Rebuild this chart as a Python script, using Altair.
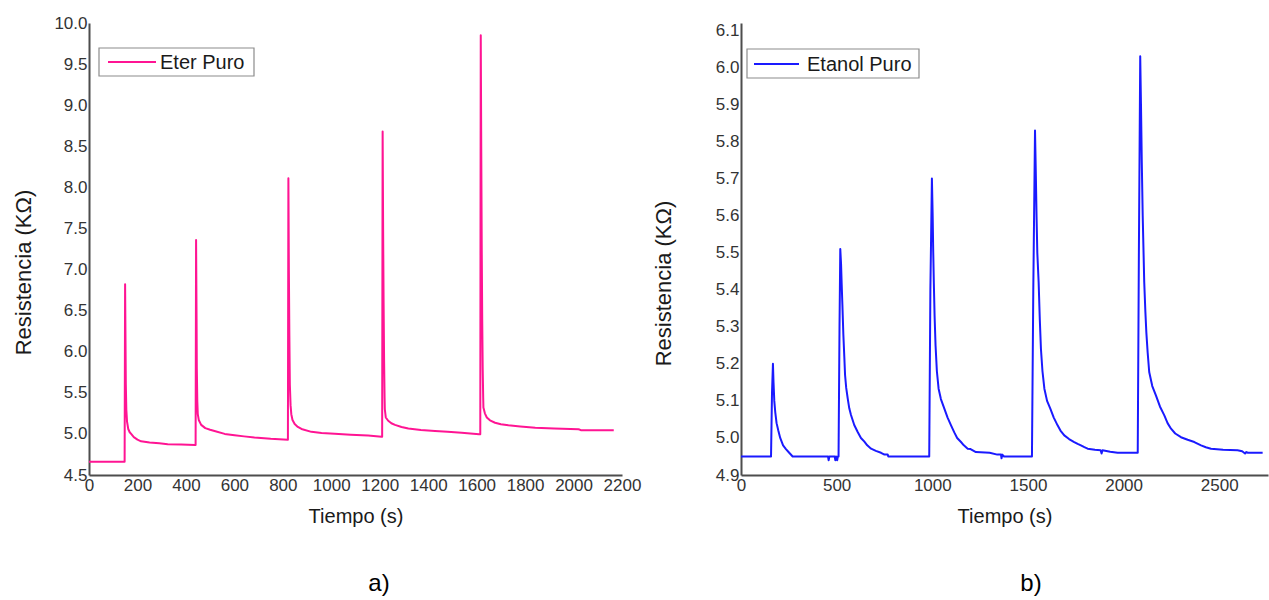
import altair as alt
import pandas as pd

# ---- data ----
eter_t = [0, 147, 149, 151, 152, 154, 157, 162, 168, 174, 185, 200, 215, 250, 290, 325, 380, 438,
          440, 442, 444, 445, 447, 449, 453, 463, 480, 500, 518, 560, 601, 640, 683, 750, 821,
          823, 825, 827, 829, 832, 835, 840, 849, 862, 877, 918, 960, 1014, 1080, 1152, 1208,
          1210, 1212, 1214, 1216, 1218, 1220, 1221, 1225, 1235, 1248, 1263, 1290, 1318, 1370, 1428, 1480, 1538, 1610,
          1615, 1617, 1619, 1621, 1623, 1625, 1627, 1628, 1634, 1642, 1655, 1676, 1700, 1731, 1780, 1842, 1920, 2021, 2030, 2166]
eter_r = [4.66, 4.66, 6.82, 6.0, 5.6, 5.3, 5.15, 5.06, 5.02, 5.0, 4.96, 4.93, 4.91, 4.895, 4.885, 4.875, 4.87, 4.865,
          4.865, 7.36, 6.4, 5.8, 5.4, 5.24, 5.17, 5.11, 5.07, 5.05, 5.035, 5.0, 4.985, 4.97, 4.955, 4.94, 4.93,
          8.11, 7.0, 6.2, 5.6, 5.35, 5.24, 5.17, 5.12, 5.085, 5.06, 5.025, 5.012, 5.003, 4.99, 4.98, 4.966,
          4.966, 8.68, 7.5, 6.6, 5.9, 5.45, 5.3, 5.2, 5.16, 5.13, 5.11, 5.085, 5.065, 5.048, 5.035, 5.025, 5.015, 4.995,
          4.995, 9.85, 8.5, 7.3, 6.4, 5.8, 5.45, 5.32, 5.25, 5.2, 5.165, 5.136, 5.118, 5.104, 5.09, 5.075, 5.065, 5.056, 5.046, 5.044]

etanol_t = [0, 157, 162, 167, 170, 174, 179, 186, 195, 205, 220, 235, 252, 270,
            455, 458, 462, 490, 493, 497, 503, 506, 510,
            515, 519, 523, 526, 530, 535, 540, 544, 550, 558, 566, 575, 592, 610, 627, 645, 660, 680, 705, 732, 750, 767, 770,
            984, 990, 998, 1002, 1005, 1008, 1012, 1017, 1024, 1033, 1045, 1063, 1080, 1098, 1115, 1130, 1150, 1165, 1185,
            1200, 1228, 1300, 1340, 1359, 1362, 1366, 1375,
            1521, 1528, 1537, 1541, 1545, 1549, 1556, 1562, 1568, 1576, 1586, 1600, 1617, 1635, 1655, 1670, 1690, 1715,
            1742, 1760, 1777, 1795, 1812, 1850, 1880, 1885, 1890, 1930, 1969,
            2074, 2080, 2087, 2091, 2095, 2100, 2108, 2114, 2119, 2126, 2134, 2150, 2169, 2190, 2213, 2230, 2248, 2270,
            2300, 2335, 2370, 2405, 2430, 2457, 2520, 2596, 2620, 2635, 2642, 2650, 2666, 2727]
etanol_r = [4.95, 4.95, 5.12, 5.20, 5.15, 5.10, 5.07, 5.04, 5.02, 5.0, 4.98, 4.97, 4.96, 4.95,
            4.95, 4.94, 4.95, 4.95, 4.94, 4.95, 4.94, 4.95, 4.95,
            5.3, 5.51, 5.47, 5.42, 5.36, 5.28, 5.22, 5.17, 5.135, 5.106, 5.08, 5.062, 5.035, 5.016, 5.0, 4.99, 4.98, 4.971, 4.965, 4.96, 4.955, 4.955, 4.95,
            4.95, 5.4, 5.70, 5.6, 5.5, 5.42, 5.33, 5.25, 5.18, 5.133, 5.105, 5.079, 5.055, 5.034, 5.015, 5.0, 4.989, 4.98, 4.971,
            4.97, 4.962, 4.96, 4.955, 4.955, 4.945, 4.955, 4.95,
            4.95, 5.4, 5.83, 5.72, 5.6, 5.5, 5.42, 5.32, 5.24, 5.18, 5.133, 5.1, 5.079, 5.055, 5.034, 5.02, 5.007, 4.997,
            4.989, 4.984, 4.98, 4.975, 4.971, 4.968, 4.967, 4.958, 4.967, 4.963, 4.96,
            4.96, 5.5, 6.03, 5.9, 5.75, 5.6, 5.42, 5.34, 5.285, 5.23, 5.178, 5.14, 5.115, 5.085, 5.061, 5.04, 5.025, 5.012,
            5.002, 4.995, 4.989, 4.98, 4.975, 4.971, 4.968, 4.967, 4.964, 4.958, 4.962, 4.96, 4.96, 4.96]

eter_x_ticks = [0, 200, 400, 600, 800, 1000, 1200, 1400, 1600, 1800, 2000, 2200]
eter_y_ticks = [4.5, 5.0, 5.5, 6.0, 6.5, 7.0, 7.5, 8.0, 8.5, 9.0, 9.5, 10.0]
etanol_x_ticks = [0, 500, 1000, 1500, 2000, 2500]
etanol_y_ticks = [4.9, 5.0, 5.1, 5.2, 5.3, 5.4, 5.5, 5.6, 5.7, 5.8, 5.9, 6.0, 6.1]

FONT = "Liberation Sans"
PINK = "#ff1493"
BLUE = "#1a1aff"
W_L, W_R, H = 533, 527, 452


def panel(t, r, name, color, xdom, xvals, ydom, yvals, width, leg, caption, ytitle_x, ytitle_y, capx):
    df = pd.DataFrame({"t": t, "r": r, "i": list(range(len(t)))})
    line = alt.Chart(df).mark_line(strokeWidth=2, strokeJoin="round", color=color).encode(
        x=alt.X("t:Q", scale=alt.Scale(domain=xdom, nice=False, zero=False),
                axis=alt.Axis(values=xvals, title="Tiempo (s)", format="d", titleY=41,
                              titleBaseline="middle")),
        y=alt.Y("r:Q", scale=alt.Scale(domain=ydom, nice=False, zero=False),
                axis=alt.Axis(values=yvals, format=".1f", title="Resistencia (KΩ)",
                              titleX=ytitle_x, titleY=ytitle_y, titleAlign="center",
                              titleBaseline="middle", titleAngle=270, titleFontSize=22)),
        order="i:Q",
    )
    # legend: box, line sample and label
    bx0, bx1, by0, by1, lx0, lx1, ly, tx = leg
    ldf = pd.DataFrame({"name": [name]})
    box = alt.Chart(ldf).mark_rect(fill="white", stroke="#8c8c8c", strokeWidth=1.2).encode(
        x=alt.value(bx0), x2=alt.value(bx1), y=alt.value(by0), y2=alt.value(by1))
    sample = alt.Chart(ldf).mark_rule(color=color, strokeWidth=2).encode(
        x=alt.value(lx0), x2=alt.value(lx1), y=alt.value(ly))
    label = alt.Chart(ldf).mark_text(font=FONT, fontSize=20, color="#1a1a1a", align="left",
                                     baseline="middle").encode(
        text="name:N", x=alt.value(tx), y=alt.value(ly + 1))
    cap = alt.Chart(pd.DataFrame({"c": [caption]})).mark_text(
        font=FONT, fontSize=24, color="#000000", align="center", baseline="middle"
    ).encode(text="c:N", x=alt.value(capx), y=alt.value(561))
    return alt.layer(line, box, sample, label, cap).properties(width=width, height=H)


left = panel(eter_t, eter_r, "Eter Puro", PINK, [0, 2200], eter_x_ticks, [4.5, 10.0], eter_y_ticks,
             W_L, (10, 165, 25, 53, 19, 67, 39, 71), "a)", -66, 249, 290)
right = panel(etanol_t, etanol_r, "Etanol Puro", BLUE, [0, 2755], etanol_x_ticks, [4.9, 6.12], etanol_y_ticks,
              W_R, (6, 178, 26, 55, 13, 58, 41, 66), "b)", -78, 260, 290)

chart = alt.hconcat(left, right, spacing=119, bounds="flush").resolve_scale(
    x="independent", y="independent"
).properties(
    padding={"left": 11, "top": 13, "right": 0, "bottom": 0}
).configure_view(stroke="transparent").configure_axis(
    domainColor="#4d4d4d", domainWidth=2, ticks=False, grid=False,
    labelFont=FONT, labelFontSize=17, labelColor="#333333", labelPadding=2,
    labelFlush=False, labelOverlap=False, labelBound=False,
    titleFont=FONT, titleFontSize=20, titleFontWeight="normal", titleColor="#1a1a1a"
)

chart.save("out.html", embed_options={"renderer": "svg", "actions": False})
